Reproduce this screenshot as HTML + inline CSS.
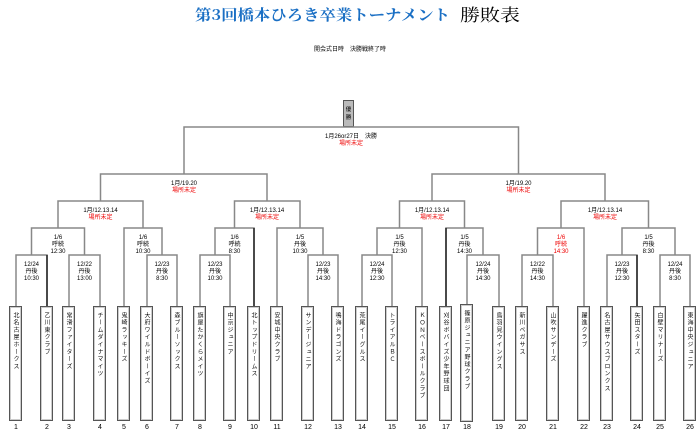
<!DOCTYPE html>
<html><head><meta charset="utf-8"><style>
body{margin:0;background:#fff;width:700px;height:436px;overflow:hidden;position:relative;font-family:"Liberation Sans","Noto Sans CJK JP",sans-serif}
svg{position:absolute;left:0;top:0}
.t{position:absolute;top:306px;width:13px;height:115px;border:1px solid #555;box-shadow:inset 0 0 0 1px #ccc;background:#fff;writing-mode:vertical-rl;font-size:6px;letter-spacing:1.3px;line-height:13px;padding-top:5px;box-sizing:border-box;color:#111;text-align:start}
.n{position:absolute;top:424px;width:20px;text-align:center;font-size:7px;color:#000}
</style></head><body>
<svg width="700" height="436" font-family="Liberation Sans, Noto Sans CJK JP, sans-serif">
<text x="195" y="20" font-size="15" fill="#1a6fc4" textLength="255" lengthAdjust="spacingAndGlyphs" font-family="Noto Serif CJK SC, serif" font-weight="bold">第3回橋本ひろき卒業トーナメント</text>
<text x="460" y="21" font-size="17" fill="#000" textLength="60" lengthAdjust="spacingAndGlyphs" font-family="Noto Serif CJK SC, serif">勝敗表</text>
<text x="350" y="51" font-size="6" text-anchor="middle">開会式日時　決勝戦終了時</text>
<rect x="343.5" y="100.5" width="10" height="26" fill="#bbb" stroke="#555"/>
<text x="348.5" y="111" font-size="5.5" text-anchor="middle">優</text>
<text x="348.5" y="119" font-size="5.5" text-anchor="middle">勝</text>
<g fill="none" stroke="#888" stroke-width="1.5">
<path d="M16 307V255H47V307"/>
<path d="M69 307V255H100V307"/>
<path d="M31.5 255V228H84.5V255"/>
<path d="M147 307V255H177V307"/>
<path d="M124 307V228H162V255"/>
<path d="M58 228V201H143V228"/>
<path d="M200 307V255H230V307"/>
<path d="M215 255V228H254V307"/>
<path d="M308 307V255H338V307"/>
<path d="M277 307V228H323V255"/>
<path d="M234.5 228V201H300V228"/>
<path d="M100.5 201V174H267V201"/>
<path d="M362 307V255H392V307"/>
<path d="M377 255V228H422V307"/>
<path d="M467 307V255H499V307"/>
<path d="M446 307V228H483V255"/>
<path d="M399.5 228V201H464.5V228"/>
<path d="M522 307V255H553V307"/>
<path d="M537.5 255V228H584V307"/>
<path d="M607 307V255H637V307"/>
<path d="M660 307V255H690V307"/>
<path d="M622 255V228H675V255"/>
<path d="M561 228V201H648.5V228"/>
<path d="M432 201V174H605V201"/>
<path d="M184 174V127H518.5V174"/>
</g>
<g stroke="#222" stroke-width="1.5" fill="none">
<path d="M47 307V255"/><path d="M254 307V228"/><path d="M446 307V228"/><path d="M637 307V255"/>
</g>
<g font-size="6" text-anchor="middle" fill="#000">
<text x="351" y="138">1月26or27日　決勝</text><text x="351" y="145" fill="#e00">場所未定</text>
<text x="184" y="185">1月/19.20</text><text x="184" y="192" fill="#e00">場所未定</text>
<text x="518.5" y="185">1月/19.20</text><text x="518.5" y="192" fill="#e00">場所未定</text>
<text x="100.5" y="212">1月/12.13.14</text><text x="100.5" y="219" fill="#e00">場所未定</text>
<text x="267" y="212">1月/12.13.14</text><text x="267" y="219" fill="#e00">場所未定</text>
<text x="432" y="212">1月/12.13.14</text><text x="432" y="219" fill="#e00">場所未定</text>
<text x="605" y="212">1月/12.13.14</text><text x="605" y="219" fill="#e00">場所未定</text>
<text x="58" y="239">1/6</text><text x="58" y="246">呼続</text><text x="58" y="253">12:30</text>
<text x="143" y="239">1/6</text><text x="143" y="246">呼続</text><text x="143" y="253">10:30</text>
<text x="234.5" y="239">1/6</text><text x="234.5" y="246">呼続</text><text x="234.5" y="253">8:30</text>
<text x="300" y="239">1/5</text><text x="300" y="246">丹後</text><text x="300" y="253">10:30</text>
<text x="399.5" y="239">1/5</text><text x="399.5" y="246">丹後</text><text x="399.5" y="253">12:30</text>
<text x="464.5" y="239">1/5</text><text x="464.5" y="246">丹後</text><text x="464.5" y="253">14:30</text>
<g fill="#e00"><text x="561" y="239">1/6</text><text x="561" y="246">呼続</text><text x="561" y="253">14:30</text></g>
<text x="648.5" y="239">1/5</text><text x="648.5" y="246">丹後</text><text x="648.5" y="253">8:30</text>
<text x="31.5" y="266">12/24</text><text x="31.5" y="273">丹後</text><text x="31.5" y="280">10:30</text>
<text x="84.5" y="266">12/22</text><text x="84.5" y="273">丹後</text><text x="84.5" y="280">13:00</text>
<text x="162" y="266">12/23</text><text x="162" y="273">丹後</text><text x="162" y="280">8:30</text>
<text x="215" y="266">12/23</text><text x="215" y="273">丹後</text><text x="215" y="280">10:30</text>
<text x="323" y="266">12/23</text><text x="323" y="273">丹後</text><text x="323" y="280">14:30</text>
<text x="377" y="266">12/24</text><text x="377" y="273">丹後</text><text x="377" y="280">12:30</text>
<text x="483" y="266">12/24</text><text x="483" y="273">丹後</text><text x="483" y="280">14:30</text>
<text x="537.5" y="266">12/22</text><text x="537.5" y="273">丹後</text><text x="537.5" y="280">14:30</text>
<text x="622" y="266">12/23</text><text x="622" y="273">丹後</text><text x="622" y="280">12:30</text>
<text x="675" y="266">12/24</text><text x="675" y="273">丹後</text><text x="675" y="280">8:30</text>
</g>
</svg>
<div class="t" style="left:9px">北名古屋ホークス</div>
<div class="t" style="left:40px">乙川東クラブ</div>
<div class="t" style="left:62px">常滑ファイターズ</div>
<div class="t" style="left:93px">チームダイナマイツ</div>
<div class="t" style="left:117px">鬼崎ラッキーズ</div>
<div class="t" style="left:140px">大府ワイルドボーイズ</div>
<div class="t" style="left:170px">森ブルーソックス</div>
<div class="t" style="left:193px">旗屋たかくらメイツ</div>
<div class="t" style="left:223px">中京ジュニア</div>
<div class="t" style="left:247px">北トップドリームス</div>
<div class="t" style="left:270px">安城中央クラブ</div>
<div class="t" style="left:301px">サンデージュニア</div>
<div class="t" style="left:331px">鳴海ドラゴンズ</div>
<div class="t" style="left:355px">荒尾イーグルス</div>
<div class="t" style="left:385px">トライアルＢＣ</div>
<div class="t" style="left:415px">ＫＯＮベースボールクラブ</div>
<div class="t" style="left:439px">刈谷ボバイズ少年野球団</div>
<div class="t" style="left:460px;top:304px;height:118px">篠原ジュニア野球クラブ</div>
<div class="t" style="left:492px">鳥羽見ウイングス</div>
<div class="t" style="left:515px">新川ペガサス</div>
<div class="t" style="left:546px">山吹サンデーズ</div>
<div class="t" style="left:577px">躍進クラブ</div>
<div class="t" style="left:600px">名古屋サウスブロンクス</div>
<div class="t" style="left:630px">矢田スターズ</div>
<div class="t" style="left:653px">白壁マリナーズ</div>
<div class="t" style="left:683px">東海中央ジュニア</div>
<div class="n" style="left:6px">1</div><div class="n" style="left:37px">2</div><div class="n" style="left:59px">3</div><div class="n" style="left:90px">4</div><div class="n" style="left:114px">5</div><div class="n" style="left:137px">6</div><div class="n" style="left:167px">7</div><div class="n" style="left:190px">8</div><div class="n" style="left:220px">9</div><div class="n" style="left:244px">10</div><div class="n" style="left:267px">11</div><div class="n" style="left:298px">12</div><div class="n" style="left:328px">13</div><div class="n" style="left:352px">14</div><div class="n" style="left:382px">15</div><div class="n" style="left:412px">16</div><div class="n" style="left:436px">17</div><div class="n" style="left:457px">18</div><div class="n" style="left:489px">19</div><div class="n" style="left:512px">20</div><div class="n" style="left:543px">21</div><div class="n" style="left:574px">22</div><div class="n" style="left:597px">23</div><div class="n" style="left:627px">24</div><div class="n" style="left:650px">25</div><div class="n" style="left:680px">26</div>
</body></html>
